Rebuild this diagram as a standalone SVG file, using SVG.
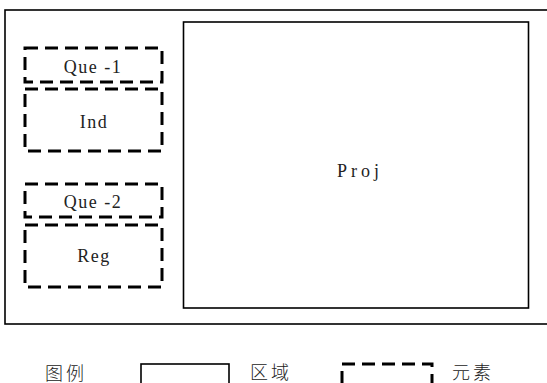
<svg xmlns="http://www.w3.org/2000/svg" width="547" height="383" viewBox="0 0 547 383">
<style>
.region{fill:#fff;stroke:#000;stroke-width:1.6}
.elem{fill:none;stroke:#000;stroke-width:3;stroke-dasharray:13 7}
.lbl{font-family:"Liberation Serif",serif;font-size:18px;fill:#222;text-anchor:middle;letter-spacing:1.5px}
.cn{font-family:"Liberation Serif","Noto Sans CJK SC",serif;font-size:18px;font-weight:300;fill:#222;letter-spacing:3px}
</style>
<rect width="547" height="383" fill="#fff"/>
<g id="outer"><rect class="region" x="5" y="10" width="560" height="314"/></g>
<g id="proj"><rect class="region" x="183.5" y="22" width="345" height="286"/><text class="lbl" x="360" y="177" style="letter-spacing:4px">Proj</text></g>
<g id="que1"><rect class="elem" x="25" y="48" width="137" height="34"/><text class="lbl" x="93" y="73">Que -1</text></g>
<g id="ind"><rect class="elem" x="25" y="89" width="137" height="62"/><text class="lbl" x="94" y="128">Ind</text></g>
<g id="que2"><rect class="elem" x="25" y="184" width="137" height="33"/><text class="lbl" x="93" y="208">Que -2</text></g>
<g id="reg"><rect class="elem" x="25" y="225" width="137" height="62"/><text class="lbl" x="94" y="262">Reg</text></g>
<g id="connectors"></g>
<g id="legend">
<text class="cn" x="45" y="380">图例</text>
<rect class="region" x="141" y="364" width="88" height="30"/>
<text class="cn" x="250" y="379">区域</text>
<rect class="elem" x="342" y="364" width="90" height="30"/>
<text class="cn" x="452" y="379">元素</text>
</g>
</svg>
